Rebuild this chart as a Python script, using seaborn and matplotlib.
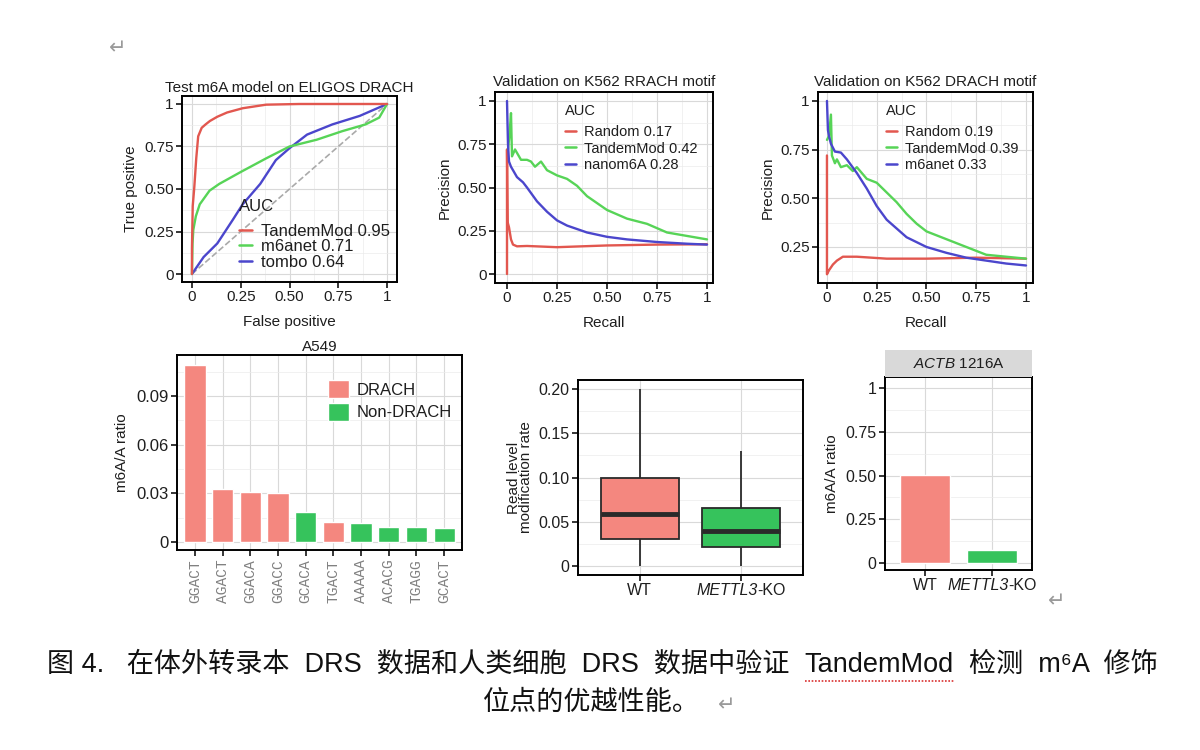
import numpy as np
import pandas as pd
import matplotlib
matplotlib.use("Agg")
import matplotlib.pyplot as plt
import seaborn as sns
from matplotlib.patches import Patch
from matplotlib.lines import Line2D
from matplotlib.offsetbox import TextArea, HPacker, AnnotationBbox

# ---------------- data ----------------
# Panel A: ROC on ELIGOS DRACH
roc_tandem_x = [0, 0, 0.004, 0.012, 0.022, 0.032, 0.05, 0.07, 0.092, 0.13, 0.18, 0.26, 0.38, 0.55, 0.75, 1.0]
roc_tandem_y = [0, 0.15, 0.40, 0.51, 0.68, 0.81, 0.86, 0.88, 0.90, 0.925, 0.95, 0.975, 0.996, 1.0, 1.0, 1.0]
roc_m6anet_x = [0, 0.003, 0.007, 0.02, 0.04, 0.09, 0.14, 0.25, 0.38, 0.50, 0.64, 0.77, 0.89, 0.96, 1.0]
roc_m6anet_y = [0, 0.18, 0.26, 0.34, 0.41, 0.49, 0.53, 0.60, 0.68, 0.75, 0.79, 0.84, 0.88, 0.92, 1.0]
roc_tombo_x = [0, 0.03, 0.06, 0.13, 0.21, 0.26, 0.35, 0.43, 0.50, 0.59, 0.72, 0.86, 1.0]
roc_tombo_y = [0, 0.05, 0.10, 0.18, 0.32, 0.41, 0.53, 0.67, 0.74, 0.82, 0.88, 0.93, 1.0]
roc_labels = ["TandemMod 0.95", "m6anet 0.71", "tombo 0.64"]

# Panel B: PR on K562 RRACH
rr_random_x = [0, 0, 0.003, 0.01, 0.02, 0.03, 0.05, 0.10, 0.25, 0.50, 0.75, 1.0]
rr_random_y = [0, 0.72, 0.30, 0.27, 0.20, 0.17, 0.16, 0.162, 0.155, 0.165, 0.170, 0.172]
rr_tandem_x = [0.005, 0.012, 0.02, 0.025, 0.04, 0.05, 0.07, 0.10, 0.12, 0.14, 0.17, 0.20, 0.25, 0.30, 0.35, 0.40, 0.50, 0.60, 0.70, 0.80, 0.90, 1.0]
rr_tandem_y = [0.72, 0.80, 0.93, 0.68, 0.72, 0.70, 0.66, 0.66, 0.65, 0.62, 0.65, 0.60, 0.57, 0.55, 0.51, 0.45, 0.37, 0.32, 0.29, 0.24, 0.22, 0.20]
rr_nano_x = [0, 0.005, 0.01, 0.02, 0.05, 0.08, 0.10, 0.15, 0.20, 0.25, 0.30, 0.40, 0.50, 0.60, 0.75, 0.90, 1.0]
rr_nano_y = [1.0, 0.75, 0.65, 0.62, 0.56, 0.53, 0.50, 0.42, 0.36, 0.31, 0.28, 0.24, 0.215, 0.20, 0.185, 0.175, 0.17]
rr_labels = ["Random 0.17", "TandemMod 0.42", "nanom6A 0.28"]

# Panel C: PR on K562 DRACH
dr_random_x = [0, 0, 0.01, 0.03, 0.05, 0.08, 0.15, 0.30, 0.50, 0.75, 1.0]
dr_random_y = [0.72, 0.11, 0.13, 0.16, 0.18, 0.20, 0.20, 0.19, 0.19, 0.195, 0.19]
dr_tandem_x = [0, 0.01, 0.02, 0.025, 0.04, 0.05, 0.07, 0.10, 0.13, 0.15, 0.20, 0.25, 0.30, 0.35, 0.40, 0.45, 0.50, 0.60, 0.70, 0.80, 0.90, 1.0]
dr_tandem_y = [0.80, 0.82, 0.93, 0.72, 0.68, 0.70, 0.66, 0.67, 0.64, 0.66, 0.60, 0.58, 0.53, 0.48, 0.42, 0.37, 0.33, 0.29, 0.25, 0.21, 0.20, 0.19]
dr_m6anet_x = [0, 0.005, 0.01, 0.02, 0.04, 0.07, 0.10, 0.15, 0.20, 0.25, 0.30, 0.40, 0.50, 0.60, 0.70, 0.80, 0.90, 1.0]
dr_m6anet_y = [1.0, 0.85, 0.82, 0.78, 0.74, 0.735, 0.70, 0.63, 0.55, 0.46, 0.39, 0.30, 0.25, 0.22, 0.195, 0.18, 0.165, 0.155]
dr_labels = ["Random 0.19", "TandemMod 0.39", "m6anet 0.33"]

# Panel D: A549 motif m6A/A ratio
motifs = ["GGACT", "AGACT", "GGACA", "GGACC", "GCACA", "TGACT", "AAAAA", "ACACG", "TGAGG", "GCACT"]
motif_ratio = [0.109, 0.0325, 0.031, 0.030, 0.0185, 0.0122, 0.0115, 0.0093, 0.0092, 0.0088]
motif_class = ["DRACH", "DRACH", "DRACH", "DRACH", "Non-DRACH", "DRACH", "Non-DRACH", "Non-DRACH", "Non-DRACH", "Non-DRACH"]

# Panel E: read level modification rate (five-number summaries)
box_groups = ["WT", "METTL3-KO"]
wt_summary = [0.0, 0.031, 0.059, 0.099, 0.200]
ko_summary = [0.0, 0.021, 0.040, 0.065, 0.130]

# Panel F: ACTB 1216A
actb_groups = ["WT", "METTL3-KO"]
actb_ratio = [0.505, 0.075]

# ---------------- style ----------------
sns.set_theme(style="white")
plt.rcParams["font.family"] = ["Liberation Sans", "Noto Sans CJK SC", "DejaVu Sans"]
plt.rcParams["mathtext.fontset"] = "custom"
plt.rcParams["mathtext.rm"] = "Liberation Sans"
plt.rcParams["mathtext.it"] = "Liberation Sans:italic"

RED_L = "#E2574F"
GRN_L = "#57D457"
BLU_L = "#4B46CC"
PINK = "#F4877F"
GREEN = "#36C35C"
TXT = "#1E1E1E"

fig = plt.figure(figsize=(12, 7.5), dpi=100)
W, H = 1200.0, 750.0


def add_ax(l, t, r, b):
    return fig.add_axes([l / W, 1 - b / H, (r - l) / W, (b - t) / H])


def style(ax, xlim, ylim, xt, xtl, yt, ytl, xminor=None, yminor=None, fs=11):
    ax.set_xlim(*xlim)
    ax.set_ylim(*ylim)
    ax.set_xticks(xt)
    ax.set_xticklabels(xtl)
    ax.set_yticks(yt)
    ax.set_yticklabels(ytl)
    if xminor is not None:
        ax.set_xticks(xminor, minor=True)
    if yminor is not None:
        ax.set_yticks(yminor, minor=True)
    ax.grid(True, which="major", color="#D9D9D9", linewidth=0.8)
    ax.grid(True, which="minor", color="#EBEBEB", linewidth=0.5)
    ax.set_axisbelow(True)
    ax.tick_params(axis="both", which="major", direction="out", length=4, width=1.1,
                   color="black", labelsize=fs, labelcolor=TXT, pad=2,
                   bottom=True, left=True)
    ax.tick_params(axis="both", which="minor", length=0)
    for s in ax.spines.values():
        s.set_color("black")
        s.set_linewidth(1.4)
        s.set_visible(True)
    ax.set_facecolor("white")


def mixed_ticklabel(ax, xpos, fs):
    ta1 = TextArea("METTL3", textprops=dict(style="italic", fontsize=fs, color=TXT))
    ta2 = TextArea("-KO", textprops=dict(fontsize=fs, color=TXT))
    box = HPacker(children=[ta1, ta2], align="baseline", pad=0, sep=0)
    ab = AnnotationBbox(box, (xpos, 0), xycoords=ax.get_xaxis_transform(),
                        xybox=(0, -6), boxcoords="offset points", box_alignment=(0.5, 1),
                        frameon=False, pad=0, annotation_clip=False)
    ax.add_artist(ab)


def line_legend(ax, labels, anchor, fs, spacing, title_sep):
    h = [Line2D([], [], color=c, lw=1.8) for c in (RED_L, GRN_L, BLU_L)]
    lg = ax.legend(h, labels, title="AUC", loc="upper left", bbox_to_anchor=anchor,
                   frameon=False, fontsize=fs, title_fontsize=fs, handlelength=0.8,
                   handletextpad=0.5, labelspacing=spacing, borderaxespad=0, borderpad=0)
    lg._legend_box.align = "left"
    lg._legend_box.sep = title_sep
    for t in lg.get_texts():
        t.set_color(TXT)
    lg.get_title().set_color(TXT)


q = [0, 0.25, 0.5, 0.75, 1]
ql = ["0", "0.25", "0.50", "0.75", "1"]
qm = [0.125, 0.375, 0.625, 0.875]

# ---- Panel A ----
ax1 = add_ax(182, 96, 397, 282)
style(ax1, (-0.051, 1.051), (-0.047, 1.047), q, ql, q, ql, qm, qm, fs=11)
sns.lineplot(x=[0, 1], y=[0, 1], ax=ax1, color="#AAAAAA", linestyle="--", linewidth=1.2,
             estimator=None, sort=False)
sns.lineplot(x=roc_tombo_x, y=roc_tombo_y, ax=ax1, color=BLU_L, linewidth=1.7, estimator=None, sort=False)
sns.lineplot(x=roc_m6anet_x, y=roc_m6anet_y, ax=ax1, color=GRN_L, linewidth=1.7, estimator=None, sort=False)
sns.lineplot(x=roc_tandem_x, y=roc_tandem_y, ax=ax1, color=RED_L, linewidth=1.7, estimator=None, sort=False)
ax1.set_title("Test m6A model on ELIGOS DRACH", fontsize=11, pad=3, color=TXT)
ax1.set_xlabel("False positive", fontsize=11, color=TXT, labelpad=8)
ax1.set_ylabel("True positive", fontsize=11, color=TXT, labelpad=4)
line_legend(ax1, roc_labels, (0.265, 0.445), 12, 0.02, 7)

# ---- Panel B ----
ax2 = add_ax(495, 92, 713, 283)
style(ax2, (-0.06, 1.03), (-0.052, 1.052), q, ql, q, ql, qm, qm, fs=11)
sns.lineplot(x=rr_random_x, y=rr_random_y, ax=ax2, color=RED_L, linewidth=1.7, estimator=None, sort=False)
sns.lineplot(x=rr_tandem_x, y=rr_tandem_y, ax=ax2, color=GRN_L, linewidth=1.7, estimator=None, sort=False)
sns.lineplot(x=rr_nano_x, y=rr_nano_y, ax=ax2, color=BLU_L, linewidth=1.7, estimator=None, sort=False)
ax2.set_title("Validation on K562 RRACH motif", fontsize=11, pad=4, color=TXT)
ax2.set_xlabel("Recall", fontsize=11, color=TXT, labelpad=8)
ax2.set_ylabel("Precision", fontsize=11, color=TXT, labelpad=4)
line_legend(ax2, rr_labels, (0.32, 0.935), 10.5, 0.2, 4.5)

# ---- Panel C ----
ax3 = add_ax(818, 92, 1033, 283)
style(ax3, (-0.045, 1.035), (0.065, 1.046), q, ql, q[1:], ql[1:], qm, qm, fs=11)
sns.lineplot(x=dr_random_x, y=dr_random_y, ax=ax3, color=RED_L, linewidth=1.7, estimator=None, sort=False)
sns.lineplot(x=dr_tandem_x, y=dr_tandem_y, ax=ax3, color=GRN_L, linewidth=1.7, estimator=None, sort=False)
sns.lineplot(x=dr_m6anet_x, y=dr_m6anet_y, ax=ax3, color=BLU_L, linewidth=1.7, estimator=None, sort=False)
ax3.set_title("Validation on K562 DRACH motif", fontsize=11, pad=4, color=TXT)
ax3.set_xlabel("Recall", fontsize=11, color=TXT, labelpad=8)
ax3.set_ylabel("Precision", fontsize=11, color=TXT, labelpad=4)
line_legend(ax3, dr_labels, (0.315, 0.935), 10.5, 0.2, 4.5)

# ---- Panel D ----
ax4 = add_ax(177, 355, 462, 550)
dfm = pd.DataFrame({"motif": motifs, "ratio": motif_ratio, "cls": motif_class})
sns.barplot(data=dfm, x="motif", y="ratio", hue="cls", dodge=False, width=0.76,
            palette={"DRACH": PINK, "Non-DRACH": GREEN}, saturation=1, ax=ax4, legend=False)
style(ax4, (-0.65, 9.65), (-0.0049, 0.1153), list(range(len(motifs))), motifs,
      [0, 0.03, 0.06, 0.09], ["0", "0.03", "0.06", "0.09"], None,
      [0.015, 0.045, 0.075, 0.105], fs=12)
ax4.tick_params(axis="x", labelrotation=90, labelsize=10.5, labelcolor="#808080", pad=3)
for t in ax4.get_xticklabels():
    t.set_fontfamily("Liberation Mono")
ax4.set_title("A549", fontsize=11, pad=3, color=TXT)
ax4.set_xlabel("")
ax4.set_ylabel("m6A/A ratio", fontsize=11, color=TXT, labelpad=5)
h = [Patch(facecolor=PINK), Patch(facecolor=GREEN)]
lg = ax4.legend(h, ["DRACH", "Non-DRACH"], loc="upper left", bbox_to_anchor=(0.53, 0.87),
                frameon=False, fontsize=12, handlelength=1.25, handleheight=1.25,
                handletextpad=0.45, labelspacing=0.3, borderaxespad=0, borderpad=0)
for t in lg.get_texts():
    t.set_color(TXT)

# ---- Panel E ----
ax5 = add_ax(578, 380, 803, 575)
dfb = pd.DataFrame({"group": [box_groups[0]] * 5 + [box_groups[1]] * 5,
                    "rate": wt_summary + ko_summary})
sns.boxplot(data=dfb, x="group", y="rate", hue="group", palette=[PINK, GREEN],
            saturation=1, width=0.77, linecolor="#2A2A2A", linewidth=1.3, showcaps=False,
            fliersize=0, whis=1.5, medianprops=dict(linewidth=3.5, color="#2A2A2A"),
            ax=ax5, legend=False)
style(ax5, (-0.61, 1.61), (-0.0102, 0.2102), [0, 1], ["WT", ""],
      [0, 0.05, 0.10, 0.15, 0.20], ["0", "0.05", "0.10", "0.15", "0.20"], None,
      [0.025, 0.075, 0.125, 0.175], fs=11.5)
mixed_ticklabel(ax5, 1, 11.5)
ax5.set_xlabel("")
ax5.set_ylabel("Read level\nmodification rate", fontsize=11, color=TXT,
               labelpad=4, linespacing=0.85)

# ---- Panel F ----
ax6 = add_ax(885, 377, 1032, 570)
dfa = pd.DataFrame({"group": actb_groups, "ratio": actb_ratio})
sns.barplot(data=dfa, x="group", y="ratio", hue="group", palette=[PINK, GREEN],
            saturation=1, width=0.75, ax=ax6, legend=False)
style(ax6, (-0.6, 1.6), (-0.04, 1.063), [0, 1], ["WT", ""], q, ql, None, qm, fs=11.5)
mixed_ticklabel(ax6, 1, 11.5)
ax6.set_xlabel("")
ax6.set_ylabel("m6A/A ratio", fontsize=11, color=TXT, labelpad=5)
strip = ax6.inset_axes([0, 1.0, 1, 27 / 193.0])
strip.set_facecolor("#D9D9D9")
strip.set_xticks([])
strip.set_yticks([])
for s in strip.spines.values():
    s.set_visible(False)
strip.text(0.5, 0.5, r"$\mathit{ACTB}$ 1216A", ha="center", va="center", fontsize=11,
           color=TXT, transform=strip.transAxes)

# ---- Caption & marks ----
fig.text(118 / W, 1 - 48 / H, "↵", fontsize=15, color="#9A9A9A", family="DejaVu Sans",
         ha="center", va="center")
fig.text(1057 / W, 1 - 601 / H, "↵", fontsize=15, color="#9A9A9A", family="DejaVu Sans",
         ha="center", va="center")

cap_fam = ["Liberation Sans", "Noto Sans CJK SC", "DejaVu Sans"]
cap_fs = 19.5
renderer = fig.canvas.get_renderer()
parts = ["图 4.   在体外转录本  DRS  数据和人类细胞  DRS  数据中验证  ",
         "TandemMod", "  检测  m⁶A  修饰"]
x_cur = 47.0
y_line1 = 1 - 665 / H
underline = None
for i, p in enumerate(parts):
    t = fig.text(x_cur / W, y_line1, p, fontsize=cap_fs, color="#111111", family=cap_fam,
                 ha="left", va="center")
    bb = t.get_window_extent(renderer=renderer)
    if i == 1:
        underline = (bb.x0, bb.x1, bb.y0)
    x_cur = bb.x1
if underline is not None:
    fig.add_artist(Line2D([underline[0] / W, underline[1] / W],
                          [(underline[2] - 3) / H, (underline[2] - 3) / H],
                          color="#D93030", linewidth=1.2, linestyle=(0, (1, 1)),
                          transform=fig.transFigure))
fig.text(483 / W, 1 - 703 / H, "位点的优越性能。", fontsize=cap_fs, color="#111111",
         family=cap_fam, ha="left", va="center")
fig.text(727 / W, 1 - 705 / H, "↵", fontsize=15, color="#9A9A9A", family="DejaVu Sans",
         ha="center", va="center")

fig.savefig("out.png", dpi=100, facecolor="white")
